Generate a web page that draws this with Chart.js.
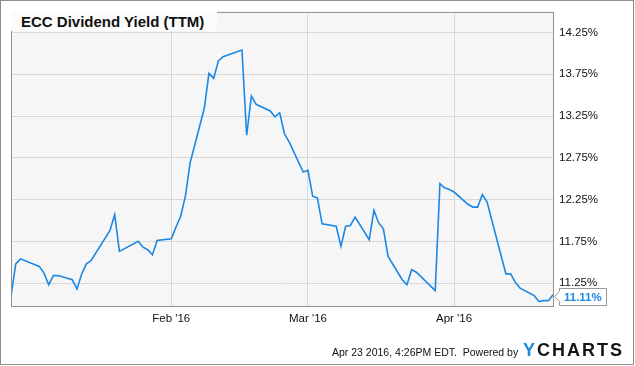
<!DOCTYPE html>
<html>
<head>
<meta charset="utf-8">
<script src="https://cdn.jsdelivr.net/npm/chart.js@4.4.1/dist/chart.umd.min.js"></script>
<style>
  html, body { margin: 0; padding: 0; background: #fff; }
  #wrap { position: relative; width: 635px; height: 366px; overflow: hidden; font-family: "Liberation Sans", Arial, sans-serif; }
  #chart { position: absolute; left: 0; top: 0; }
  #titleBox { position: absolute; left: 11px; top: 11px; width: 206px; height: 20px; background: #fbfbfb; }
  #title { position: absolute; left: 21px; top: 13px; font-size: 15px; font-weight: bold; color: #111; line-height: 17px; white-space: nowrap; }
  #stamp { position: absolute; left: 332px; top: 346px; font-size: 10.5px; color: #111; line-height: 13px; white-space: nowrap; }
  #logo { position: absolute; left: 523px; top: 340px; font-size: 18px; font-weight: bold; letter-spacing: 2px; line-height: 20px; color: #141414; white-space: nowrap; }
  #logo span { color: #1a8bdc; }
</style>
</head>
<body>
<div id="wrap">
  <canvas id="chart" width="635" height="366"></canvas>
  <div id="titleBox"></div>
  <div id="title">ECC Dividend Yield (TTM)</div>
  <div id="stamp">Apr 23 2016, 4:26PM EDT.&nbsp; Powered by</div>
  <div id="logo"><span>Y</span>CHARTS</div>
</div>
<script>
// trading days
const dates = ['2015-12-29','2015-12-30','2015-12-31',
  '2016-01-04','2016-01-05','2016-01-06','2016-01-07','2016-01-08',
  '2016-01-11','2016-01-12','2016-01-13','2016-01-14','2016-01-15',
  '2016-01-19','2016-01-20','2016-01-21',
  '2016-01-25','2016-01-26','2016-01-27','2016-01-28','2016-01-29',
  '2016-02-01','2016-02-02','2016-02-03','2016-02-04','2016-02-05',
  '2016-02-08','2016-02-09','2016-02-10','2016-02-11','2016-02-12',
  '2016-02-16','2016-02-17','2016-02-18','2016-02-19',
  '2016-02-22','2016-02-23','2016-02-24','2016-02-25','2016-02-26',
  '2016-02-29','2016-03-01','2016-03-02','2016-03-03','2016-03-04',
  '2016-03-07','2016-03-08','2016-03-09','2016-03-10','2016-03-11',
  '2016-03-14','2016-03-15','2016-03-16','2016-03-17','2016-03-18',
  '2016-03-21','2016-03-22','2016-03-23','2016-03-24',
  '2016-03-28','2016-03-29','2016-03-30','2016-03-31','2016-04-01',
  '2016-04-04','2016-04-05','2016-04-06','2016-04-07','2016-04-08',
  '2016-04-12','2016-04-13','2016-04-14','2016-04-15',
  '2016-04-18','2016-04-19','2016-04-20','2016-04-21','2016-04-22'];

const yieldValues = [11.09, 11.48, 11.54,
  11.45, 11.37, 11.23, 11.34, 11.34,
  11.29, 11.18, 11.36, 11.48, 11.52,
  11.88, 12.07, 11.63,
  11.75, 11.68, 11.65, 11.59, 11.76,
  11.78, 11.92, 12.05, 12.29, 12.69,
  13.34, 13.76, 13.70, 13.91, 13.96,
  14.04, 13.02, 13.49, 13.39,
  13.31, 13.24, 13.29, 13.04, 12.94,
  12.58, 12.60, 12.29, 12.27, 11.96,
  11.93, 11.69, 11.93, 11.94, 12.04,
  11.77, 12.12, 11.97, 11.90, 11.57,
  11.29, 11.23, 11.41, 11.38,
  11.16, 12.44, 12.39, 12.37, 12.34,
  12.19, 12.16, 12.16, 12.31, 12.22,
  11.36, 11.36, 11.26, 11.19,
  11.10, 11.03, 11.04, 11.04, 11.11];

const xTickDates = ['2016-02-01', '2016-03-01', '2016-04-01'];
const xTickLabels = ["Feb '16", "Mar '16", "Apr '16"];
const yTicks = [11.25, 11.75, 12.25, 12.75, 13.25, 13.75, 14.25];

// days since Jan 1 2016
function dayNum(s) {
    const p = s.split('-').map(Number);
    return (Date.UTC(p[0], p[1] - 1, p[2]) - Date.UTC(2016, 0, 1)) / 86400000;
}

const points = dates.map((d, i) => ({ x: dayNum(d), y: yieldValues[i] }));
const xTickDays = xTickDates.map(dayNum);

const FONT = '"Liberation Sans", Arial, sans-serif';
const LINE_BLUE = '#1c88e6';

const frame = {
    id: 'frame',
    beforeDraw(chart) {
        const { ctx, chartArea: a } = chart;
        ctx.save();
        ctx.fillStyle = '#f6f6f6';
        ctx.fillRect(a.left, a.top, a.right - a.left, a.bottom - a.top);
        ctx.restore();
    },
    afterDraw(chart) {
        const { ctx, chartArea: a, scales } = chart;
        ctx.save();
        // outer border
        ctx.strokeStyle = '#8c8c8c';
        ctx.lineWidth = 1;
        ctx.strokeRect(0.5, 0.5, 633, 364);
        // plot border
        ctx.strokeStyle = '#8f8f8f';
        ctx.strokeRect(a.left + 0.5, a.top + 0.5, a.right - a.left - 1, a.bottom - a.top);

        // last value tag
        const last = yieldValues[yieldValues.length - 1];
        const y = Math.round(scales.y.getPixelForValue(last)) + 1;
        const bx = a.right + 5, bw = 47, bh = 17, by = y - 8;
        ctx.beginPath();
        ctx.moveTo(a.right + 0.5, y + 0.5);
        ctx.lineTo(bx + 0.5, by + 3.5);
        ctx.lineTo(bx + 0.5, by + 0.5);
        ctx.lineTo(bx + bw + 0.5, by + 0.5);
        ctx.lineTo(bx + bw + 0.5, by + bh + 0.5);
        ctx.lineTo(bx + 0.5, by + bh + 0.5);
        ctx.lineTo(bx + 0.5, by + bh - 3.5);
        ctx.closePath();
        ctx.fillStyle = '#fff';
        ctx.fill();
        ctx.strokeStyle = '#999';
        ctx.stroke();
        ctx.fillStyle = LINE_BLUE;
        ctx.font = 'bold 11.5px ' + FONT;
        ctx.textBaseline = 'middle';
        ctx.textAlign = 'left';
        ctx.fillText(last.toFixed(2) + '%', bx + 5, by + bh / 2 + 1);
        ctx.restore();
    }
};

new Chart(document.getElementById('chart').getContext('2d'), {
    type: 'line',
    data: {
        datasets: [{
            data: points,
            borderColor: LINE_BLUE,
            borderWidth: 1.6,
            pointRadius: 0,
            tension: 0,
            fill: false
        }]
    },
    options: {
        responsive: false,
        animation: false,
        devicePixelRatio: 1,
        layout: { padding: { left: 11, top: 10, right: 1, bottom: 0 } },
        plugins: {
            legend: { display: false },
            tooltip: { enabled: false }
        },
        scales: {
            x: {
                type: 'linear',
                min: -3,
                max: 112.2,
                afterBuildTicks: axis => { axis.ticks = xTickDays.map(v => ({ value: v })); },
                afterFit: scale => { scale.height = 60; },
                grid: { color: '#d8d8d8', drawTicks: false },
                border: { display: false },
                ticks: {
                    padding: 6,
                    color: '#111',
                    font: { family: FONT, size: 11.5 },
                    maxRotation: 0,
                    callback: v => xTickLabels[xTickDays.indexOf(v)]
                }
            },
            y: {
                position: 'right',
                min: 10.976,
                max: 14.496,
                afterBuildTicks: axis => { axis.ticks = yTicks.map(v => ({ value: v })); },
                afterFit: scale => { scale.width = 80; },
                grid: { color: '#d8d8d8', drawTicks: false },
                border: { display: false },
                ticks: {
                    padding: 5,
                    color: '#111',
                    font: { family: FONT, size: 11.5 },
                    callback: v => v.toFixed(2) + '%'
                }
            }
        }
    },
    plugins: [frame]
});
</script>
</body>
</html>
